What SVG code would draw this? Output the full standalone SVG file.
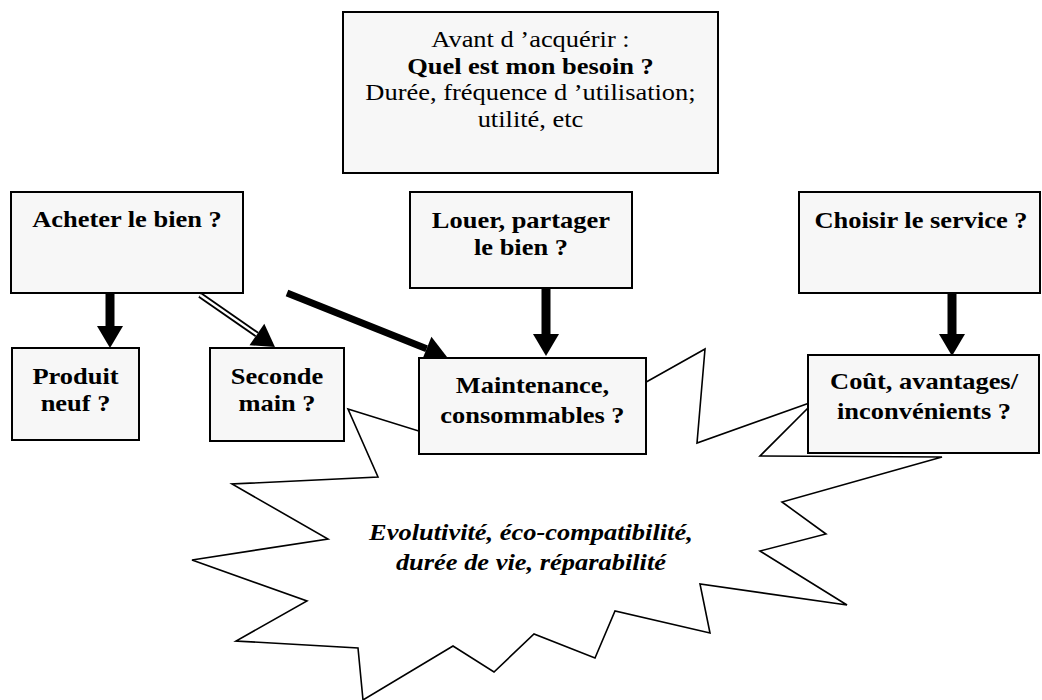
<svg xmlns="http://www.w3.org/2000/svg" width="1042" height="700" viewBox="0 0 1042 700">
<style>
.box{fill:#f7f7f7;stroke:#000;stroke-width:2}
.t{font-family:"Liberation Serif","Times New Roman",serif;font-size:23px;fill:#000;text-anchor:middle}
.b{font-weight:bold}
.bi{font-weight:bold;font-style:italic}
.star{fill:#fff;stroke:#000;stroke-width:1.6;stroke-linejoin:miter}
.arr{stroke:#000;fill:none;marker-end:url(#ah)}
</style>
<defs>
<marker id="ah" markerUnits="userSpaceOnUse" markerWidth="22" markerHeight="26" viewBox="0 0 22 26" refX="0" refY="13" orient="auto" overflow="visible">
<path d="M0,0 L22,13 L0,26 Z" fill="#000"/>
</marker>
</defs>
<rect width="1042" height="700" fill="#fff"/>
<g id="starburst">
<polygon class="star" points="348,409 470,447 600,408 705,349 697,443 815,401 760,456 942,457 782,502 826,534 760,551 847,605 700,584 710,633 615,611 595,658 534,634 494,672 453,646 363,700 358,648 236,641 307,601 192,560 328,539 232,484 378,477"/>
<g transform="scale(1.15 1)">
<text class="t bi" x="461.7" y="540">Evolutivité, éco-compatibilité,</text>
<text class="t bi" x="461.7" y="570">durée de vie, réparabilité</text>
</g>
</g>
<g id="connectors">
<line class="arr" x1="110" y1="293" x2="110" y2="326" stroke-width="9"/>
<line class="arr" x1="546" y1="288" x2="546" y2="334" stroke-width="9"/>
<line class="arr" x1="952" y1="293" x2="952" y2="334" stroke-width="9"/>
<line class="arr" x1="287" y1="293" x2="426.6" y2="348.8" stroke-width="7"/>
<line class="arr" x1="200" y1="295" x2="256.9" y2="334.5" stroke-width="6"/>
<line x1="200" y1="295" x2="256.9" y2="334.5" stroke="#fff" stroke-width="2.4"/>
</g>
<g id="besoin">
<rect class="box" x="343" y="12" width="375" height="161"/>
<g transform="scale(1.15 1)">
<text class="t" x="461.3" y="47">Avant d ’acquérir :</text>
<text class="t b" x="461.3" y="74">Quel est mon besoin ?</text>
<text class="t" x="461.3" y="100">Durée, fréquence d ’utilisation;</text>
<text class="t" x="461.3" y="127">utilité, etc</text>
</g>
</g>
<g id="acheter">
<rect class="box" x="11" y="192" width="232" height="101"/>
<g transform="scale(1.15 1)"><text class="t b" x="110.4" y="227">Acheter le bien ?</text></g>
</g>
<g id="louer">
<rect class="box" x="410" y="192" width="222" height="96"/>
<g transform="scale(1.15 1)">
<text class="t b" x="453" y="228">Louer, partager</text>
<text class="t b" x="453" y="255">le bien ?</text>
</g>
</g>
<g id="choisir">
<rect class="box" x="799" y="192" width="241" height="101"/>
<g transform="scale(1.15 1)"><text class="t b" x="800.9" y="228">Choisir le service ?</text></g>
</g>
<g id="produit">
<rect class="box" x="12" y="348" width="127" height="92"/>
<g transform="scale(1.15 1)">
<text class="t b" x="65.7" y="384">Produit</text>
<text class="t b" x="65.7" y="411">neuf ?</text>
</g>
</g>
<g id="seconde">
<rect class="box" x="210" y="348" width="134" height="93"/>
<g transform="scale(1.15 1)">
<text class="t b" x="240.9" y="384">Seconde</text>
<text class="t b" x="240.9" y="411">main ?</text>
</g>
</g>
<g id="maintenance">
<rect class="box" x="419" y="358" width="227" height="96"/>
<g transform="scale(1.15 1)">
<text class="t b" x="463" y="393">Maintenance,</text>
<text class="t b" x="463" y="423">consommables ?</text>
</g>
</g>
<g id="cout">
<rect class="box" x="808" y="355" width="231" height="98"/>
<g transform="scale(1.15 1)">
<text class="t b" x="803.5" y="389">Coût, avantages/</text>
<text class="t b" x="803.5" y="419">inconvénients ?</text>
</g>
</g>
</svg>
